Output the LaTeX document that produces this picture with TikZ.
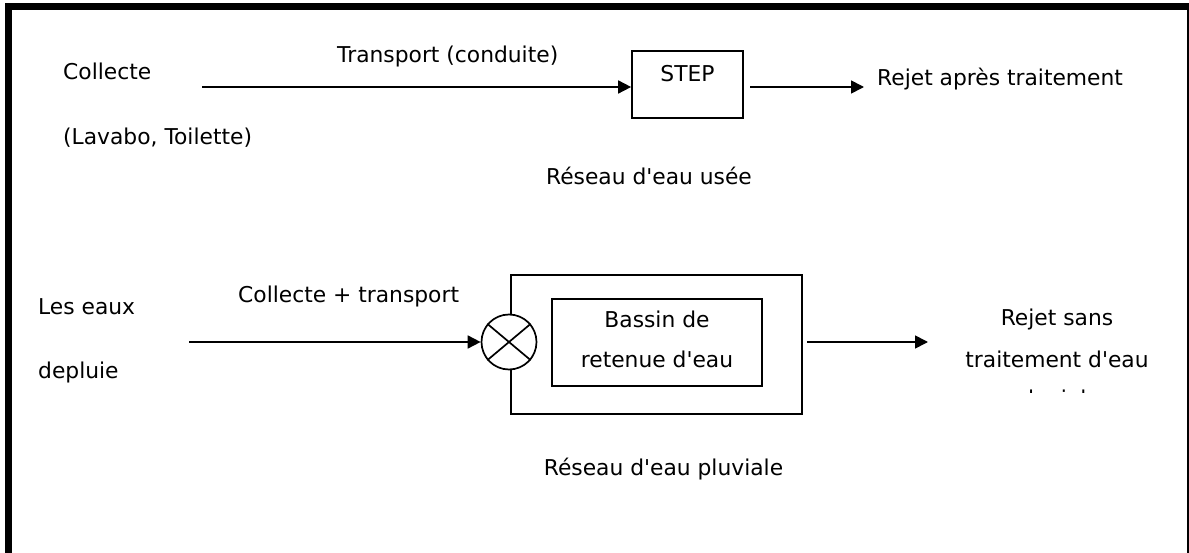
\documentclass[tikz,border=0pt]{standalone}
\usepackage{fontspec}
\setmainfont{DejaVu Sans}[Ligatures=TeXOff]
\usetikzlibrary{arrows.meta}
\begin{document}
\begin{tikzpicture}[x=1pt,y=-1pt,
  txt/.style={inner sep=0pt, font=\fontsize{21.8}{26}\selectfont},
  boxline/.style={draw, line width=1.7pt, inner sep=0pt},
  flow/.style={line width=1.7pt, -{Triangle[length=13pt,width=13pt]}},
]
\useasboundingbox (0,0) rectangle (1189,553);
\fill[white] (0,0) rectangle (1189,553);
% frame
\draw[line width=7pt] (8.5,553) -- (8.5,6.5) -- (1189,6.5);
\draw[line width=2pt] (1188,6.5) -- (1188,553);

% top row: waste water
\node[txt, anchor=base west] (collecte) at (63,80) {Collecte};
\node[txt, anchor=base west] (lavabo) at (63,145) {(Lavabo, Toilette)};
\node[txt, anchor=base west] (transport) at (337,63) {Transport (conduite)};
\node[boxline, minimum width=111pt, minimum height=67pt] (stepbox) at (687.5,84.5) {};
\node[txt, anchor=base] (steptxt) at (687.5,82) {STEP};
\node[txt, anchor=base west] (rejet1) at (877,86) {Rejet après traitement};
\node[txt, anchor=base] (reseau1) at (649,185) {Réseau d'eau usée};
\coordinate (a1) at (202,87);
\draw[flow] (a1) -- (a1 -| stepbox.west);
\coordinate (b1) at (750,87);
\coordinate (b2) at (864,87);
\draw[flow] (b1) -- (b2);

% bottom row: rain water
\node[txt, anchor=base west] (les) at (38,315) {Les eaux};
\node[txt, anchor=base west] (depluie) at (38,378) {depluie};
\node[txt, anchor=base west] (ct) at (238,303) {Collecte + transport};
\node[boxline, minimum width=291pt, minimum height=139pt] (outer) at (656.5,344.5) {};
\node[boxline, minimum width=210pt, minimum height=87pt] (inner) at (657,342.5) {};
\node[txt, anchor=base] (bassin1) at (657,328) {Bassin de};
\node[txt, anchor=base] (bassin2) at (657,367) {retenue d'eau};
\node[draw, line width=1.7pt, fill=white, circle, minimum size=55pt, inner sep=0pt] (mix) at (509,342) {};
\draw[line width=1.7pt] (mix.40) -- (mix.220) (mix.140) -- (mix.320);
\coordinate (c1) at (189,342);
\draw[flow] (c1) -- (mix.west);
\coordinate (d1) at (807,342);
\coordinate (d2) at (928,342);
\draw[flow] (d1) -- (d2);
\node[txt, anchor=base] (rs1) at (1057,326) {Rejet sans};
\node[txt, anchor=base] (rs2) at (1057,367) {traitement d'eau};
\begin{scope}
  \clip (940,380) rectangle (1180,392);
  \node[txt, anchor=base] (rs3) at (1057,406) {pluviale};
\end{scope}
\node[txt, anchor=base] (reseau2) at (663.5,475) {Réseau d'eau pluviale};
\end{tikzpicture}
\end{document}
